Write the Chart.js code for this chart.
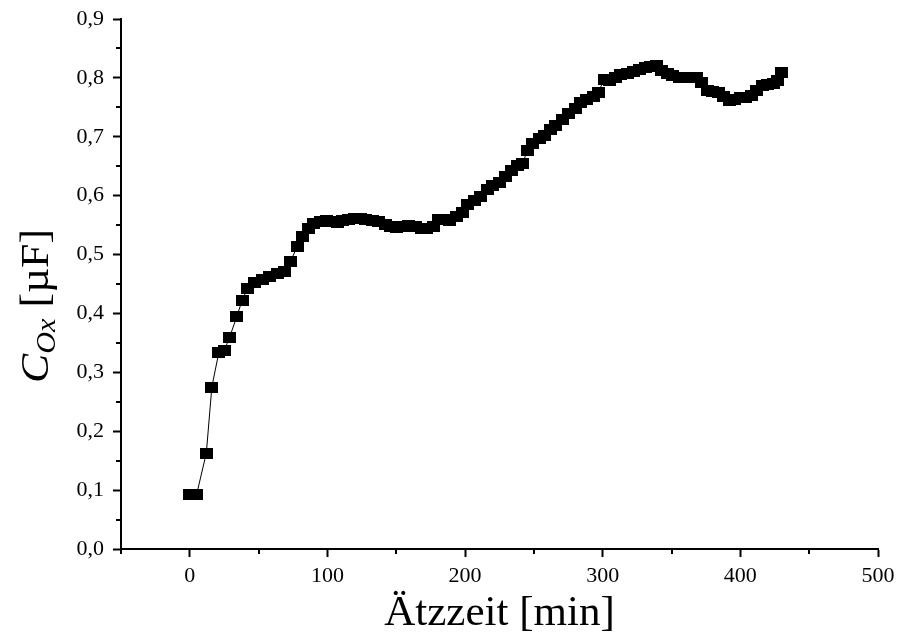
<!DOCTYPE html>
<html>
<head>
<meta charset="utf-8">
<script src="https://cdn.jsdelivr.net/npm/chart.js@4/dist/chart.umd.min.js"></script>
<style>
  html, body { margin: 0; padding: 0; background: #fff; }
  #wrap { width: 898px; height: 635px; }
</style>
</head>
<body>
<div id="wrap"><canvas id="c" width="898" height="635"></canvas></div>
<script>
// ---- data ----
const timeMin = [0,5,12,16,21,25,29,34,38,42,47,53,58,64,69,73,78,82,86,90,95,99,103,107,111,115,120,124,128,133,137,142,146,150,155,159,164,168,172,177,181,185,189,194,198,202,207,211,216,220,225,229,234,238,242,245,249,254,258,262,266,271,275,280,284,288,293,297,301,305,309,313,318,322,327,331,335,339,343,347,351,356,360,364,368,372,376,380,384,388,392,396,400,404,408,412,416,420,424,427,430];
const capUF = [0.093,0.093,0.163,0.275,0.333,0.337,0.360,0.394,0.422,0.443,0.452,0.458,0.463,0.467,0.472,0.488,0.513,0.530,0.544,0.552,0.556,0.557,0.556,0.555,0.557,0.559,0.561,0.561,0.559,0.558,0.556,0.551,0.548,0.546,0.548,0.549,0.548,0.544,0.545,0.548,0.559,0.560,0.557,0.565,0.572,0.585,0.592,0.598,0.610,0.617,0.622,0.632,0.643,0.652,0.654,0.677,0.688,0.697,0.703,0.713,0.720,0.730,0.740,0.748,0.758,0.763,0.768,0.776,0.798,0.795,0.800,0.805,0.808,0.811,0.815,0.817,0.820,0.821,0.812,0.808,0.804,0.801,0.800,0.800,0.800,0.793,0.779,0.777,0.776,0.768,0.762,0.764,0.766,0.766,0.770,0.779,0.787,0.789,0.790,0.795,0.810];
const xMajorTicks = [0,100,200,300,400,500];
const xMinorTicks = [-50,50,150,250,350,450];
const yMajorTicks = [0,0.1,0.2,0.3,0.4,0.5,0.6,0.7,0.8,0.9];
const yMinorTicks = [0.05,0.15,0.25,0.35,0.45,0.55,0.65,0.75,0.85];
const xTitle = 'Ätzzeit [min]';
const yTitleMain = 'C';
const yTitleSub = 'Ox';
const yTitleUnit = ' [µF]';

const points = timeMin.map((t, i) => ({ x: t, y: capUF[i] }));

// square marker
const marker = document.createElement('canvas');
marker.width = 13; marker.height = 11;
(function(){ const m = marker.getContext('2d'); m.fillStyle = '#000'; m.fillRect(0,0,13,11); })();

const FONT = "'Liberation Serif', 'Times New Roman', serif";

const minorTicksPlugin = {
  id: 'minorTicks',
  afterDraw(chart) {
    const ctx = chart.ctx;
    const xs = chart.scales.x, ys = chart.scales.y;
    ctx.save();
    ctx.strokeStyle = '#000';
    ctx.lineWidth = 2;
    ctx.beginPath();
    xMinorTicks.forEach(v => {
      const px = Math.round(xs.getPixelForValue(v));
      ctx.moveTo(px, ys.bottom); ctx.lineTo(px, ys.bottom + 5);
    });
    yMinorTicks.forEach(v => {
      const py = Math.round(ys.getPixelForValue(v));
      ctx.moveTo(xs.left, py); ctx.lineTo(xs.left - 5, py);
    });
    ctx.stroke();
    // y title with subscript
    ctx.translate(48, 306);
    ctx.rotate(-Math.PI / 2);
    ctx.scale(1.12, 1);
    ctx.fillStyle = '#000';
    ctx.textBaseline = 'alphabetic';
    const f1 = "italic 39px " + FONT, f2 = "italic 27px " + FONT, f3 = "39px " + FONT;
    ctx.font = f1; const w1 = ctx.measureText(yTitleMain).width;
    ctx.font = f2; const w2 = ctx.measureText(yTitleSub).width;
    ctx.font = f3; const w3 = ctx.measureText(yTitleUnit).width;
    let x0 = -(w1 + w2 + w3) / 2;
    ctx.font = f1; ctx.fillText(yTitleMain, x0, 0); x0 += w1;
    ctx.font = f2; ctx.fillText(yTitleSub, x0, 7); x0 += w2;
    ctx.font = f3; ctx.fillText(yTitleUnit, x0, 0);
    ctx.restore();
  }
};

new Chart(document.getElementById('c'), {
  type: 'line',
  data: {
    datasets: [{
      data: points,
      borderColor: '#000',
      borderWidth: 1,
      pointStyle: marker,
      pointRadius: 6,
      pointBackgroundColor: '#000',
      pointBorderColor: '#000',
      tension: 0,
      fill: false
    }]
  },
  options: {
    responsive: false,
    animation: false,
    events: [],
    layout: { padding: { top: 19, right: 20, left: 0, bottom: 0 } },
    plugins: { legend: { display: false }, tooltip: { enabled: false } },
    scales: {
      x: {
        type: 'linear',
        min: -50, max: 500,
        afterBuildTicks: s => { s.ticks = xMajorTicks.map(v => ({ value: v })); },
        afterFit: s => { s.height = 86; s.paddingLeft = 0; s.paddingRight = 0; },
        border: { display: true, color: '#000', width: 2 },
        grid: { display: true, drawOnChartArea: false, drawTicks: true, tickLength: 8, tickColor: '#000', tickWidth: 2 },
        ticks: { color: '#000', padding: 6, maxRotation: 0, autoSkip: false, font: { family: FONT, size: 22 }, callback: v => String(v) },
        title: { display: true, text: xTitle, color: '#000', font: { family: FONT, size: 43, lineHeight: 1.0 }, padding: { top: 0, bottom: 0 } }
      },
      y: {
        type: 'linear',
        min: 0, max: 0.9,
        afterBuildTicks: s => { s.ticks = yMajorTicks.map(v => ({ value: v })); },
        afterFit: s => { s.width = 121; s.paddingTop = 0; s.paddingBottom = 0; },
        border: { display: true, color: '#000', width: 2 },
        grid: { display: true, drawOnChartArea: false, drawTicks: true, tickLength: 8, tickColor: '#000', tickWidth: 2 },
        ticks: { color: '#000', padding: 9, autoSkip: false, font: { family: FONT, size: 22 }, callback: v => v.toFixed(1).replace('.', ',') }
      }
    }
  },
  plugins: [minorTicksPlugin]
});
</script>
</body>
</html>
